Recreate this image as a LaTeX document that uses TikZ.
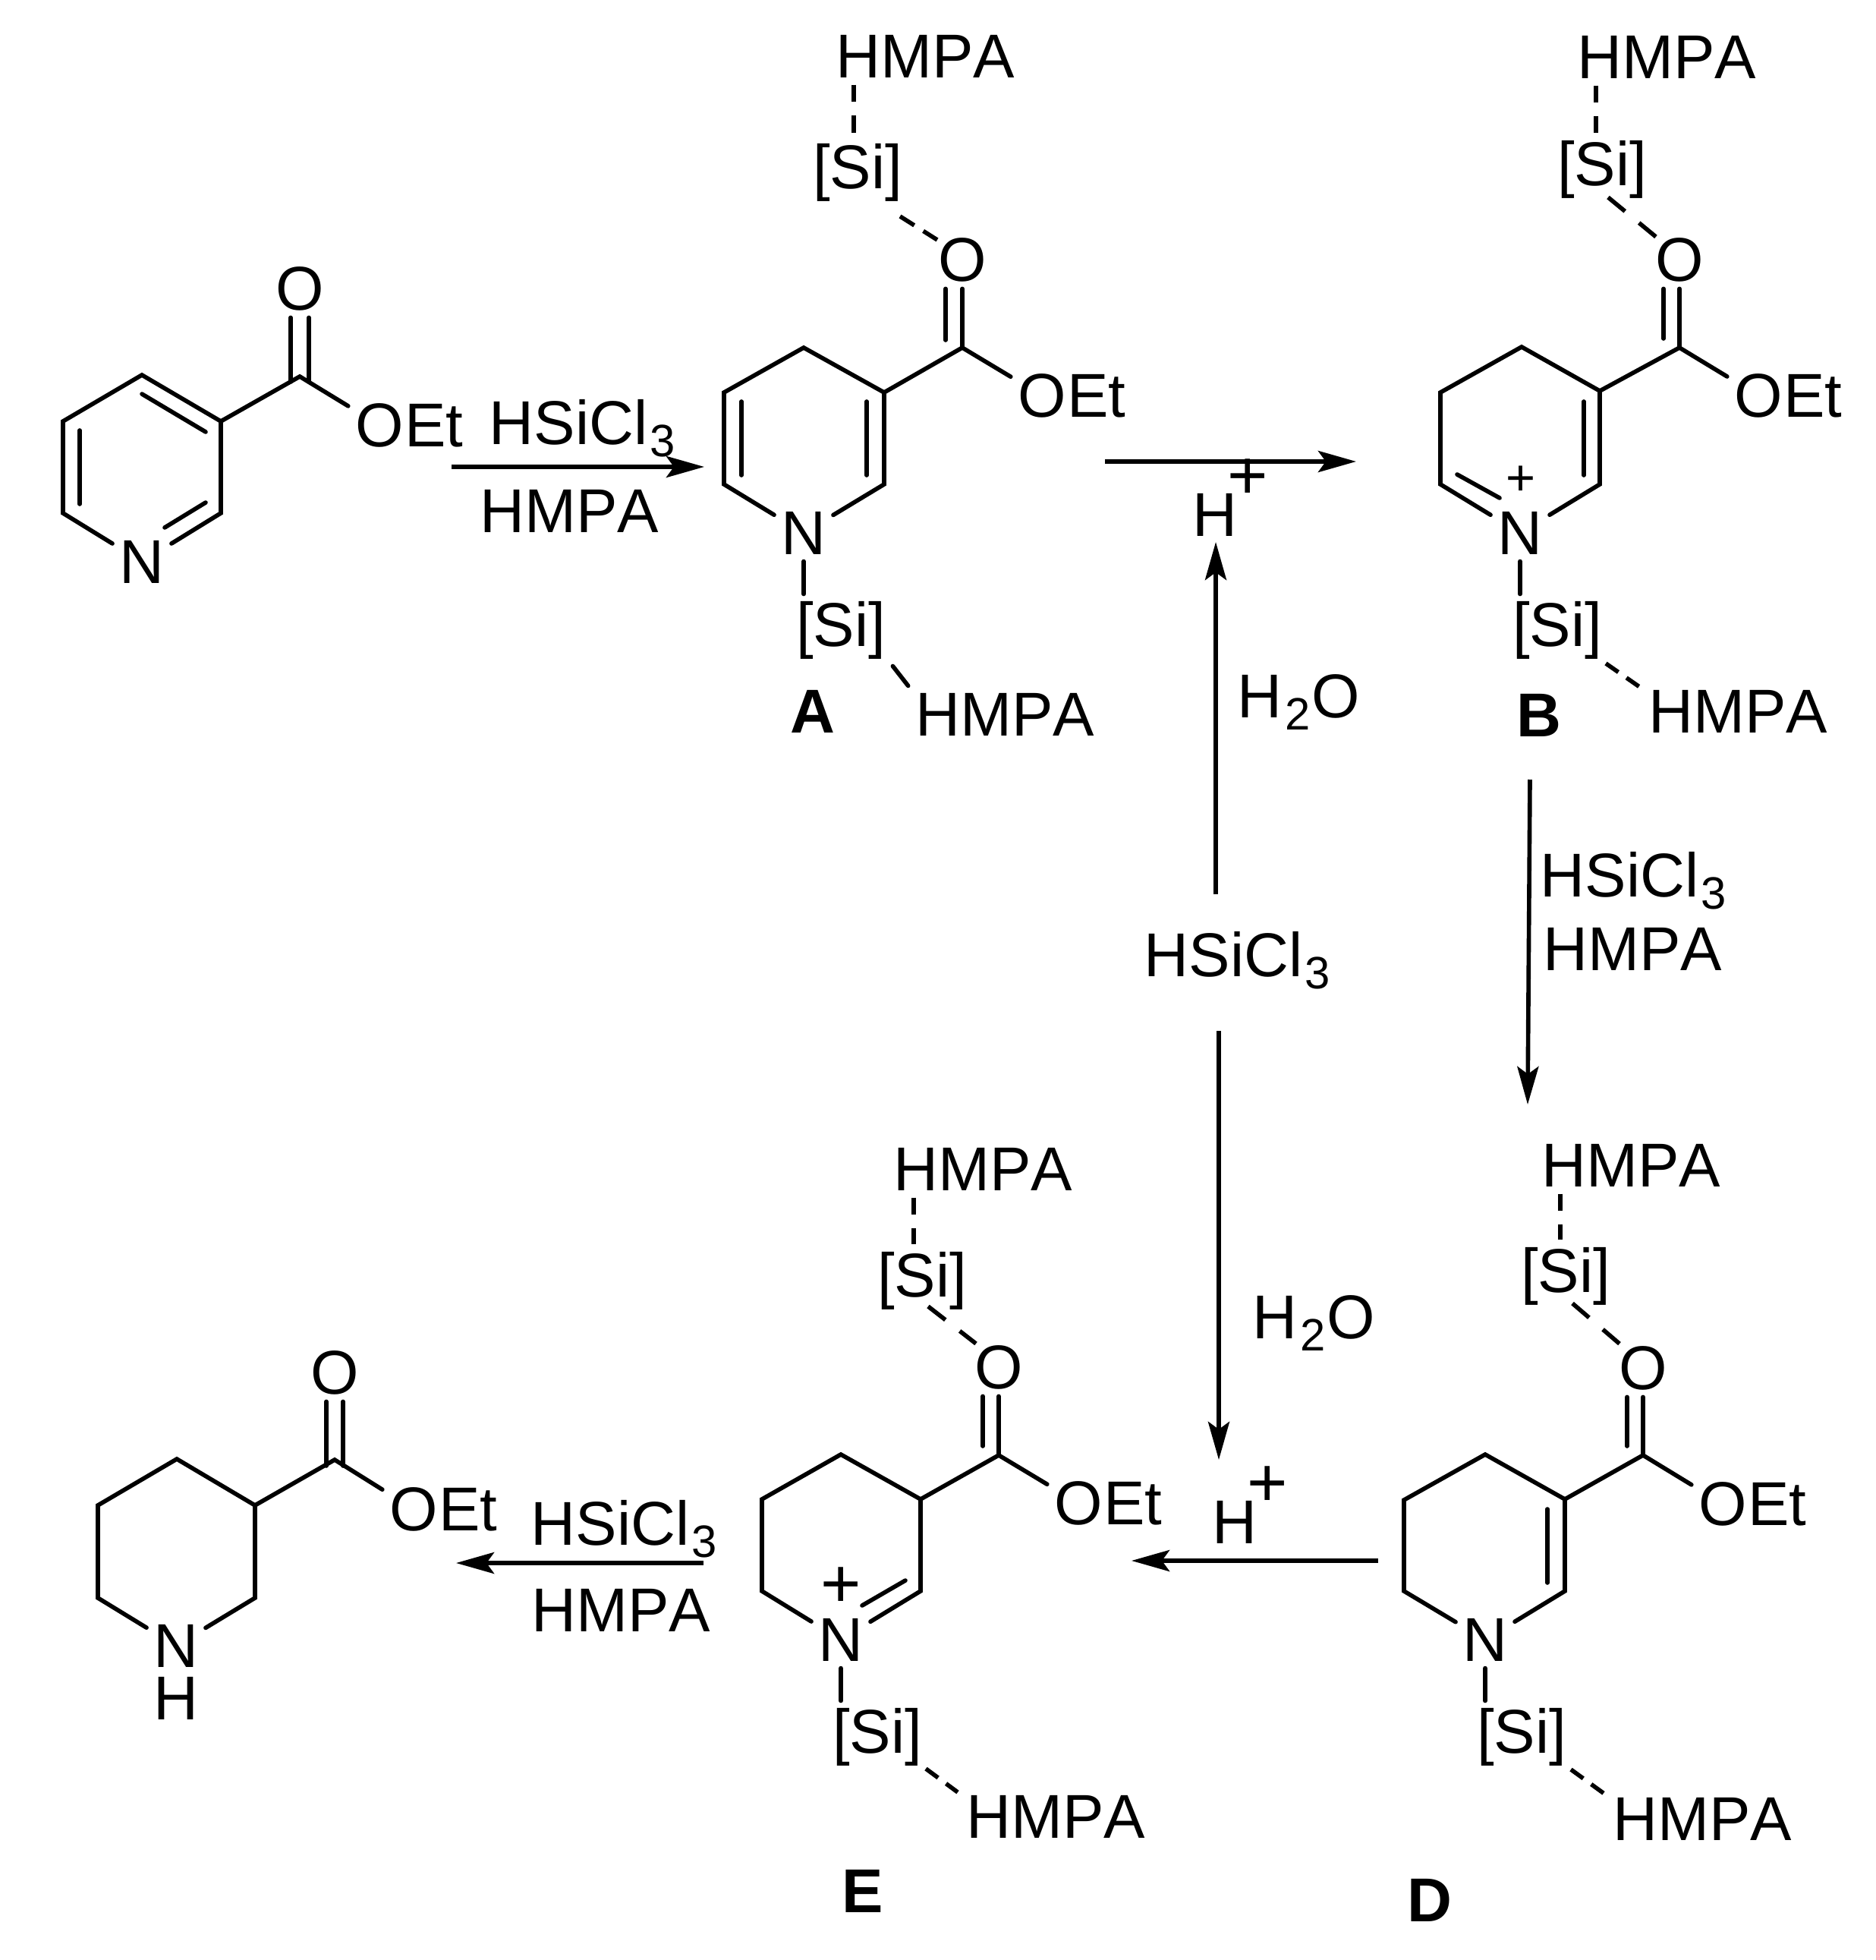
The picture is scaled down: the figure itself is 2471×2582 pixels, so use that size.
\documentclass[tikz,border=0pt]{standalone}
\usepackage{fontspec}
\setmainfont[Kerning=Off]{Liberation Sans}
\usetikzlibrary{arrows.meta,positioning}
\newcommand{\molfont}{\fontsize{23.2}{27}\selectfont}
\newcommand{\molsub}[1]{\kern1pt\raisebox{-4.8pt}{\fontsize{17}{17}\selectfont #1}\kern0.5pt}
\tikzset{
  atom/.style={inner sep=2.5pt},
  lbl/.style={inner sep=0pt},
  reagent/.style={inner sep=0pt,anchor=base west},
  cmpd/.style={inner sep=0pt,font=\molfont\bfseries},
  chgs/.style={inner sep=0pt,font=\fontsize{19}{19}\selectfont},
  chgl/.style={inner sep=0pt,font=\fontsize{26}{26}\selectfont},
  bond/.style={line width=1.6pt,line cap=round},
  dbond/.style={line width=1.6pt,dash pattern=on 6.5pt off 5pt},
  sdbond/.style={line width=1.6pt,dash pattern=on 6.3pt off 4pt},
  hdbond/.style={line width=1.6pt,dash pattern=on 5.7pt off 3.7pt},
  ldbond/.style={line width=1.6pt,dash pattern=on 8.2pt off 6.8pt},
  rxn/.style={line width=1.6pt,-{Stealth[length=5mm,width=2.8mm,inset=1mm]}}
}
\begin{document}
\begin{tikzpicture}[x=0.01cm,y=-0.01cm,every node/.style={font=\molfont}]
\useasboundingbox (0,0) rectangle (2471,2582);
% starting ester
\node[atom] (pN) at (187,740) {N};
\node[atom] (pO) at (395,380) {O};
\node[atom] (pOe) at (500,560) {O};
\node[lbl,base right=-2.5pt of pOe] (pEt) {Et};
\coordinate (p1) at (291,676);
\coordinate (p2) at (291,555);
\coordinate (p3) at (187,494);
\coordinate (p4) at (83,555);
\coordinate (p5) at (83,676);
\coordinate (pC) at (395,496);
\coordinate (pCa) at (383,503);
\coordinate (pCb) at (407,503);
\coordinate (pIa) at (271,662);
\coordinate (pIb) at (217,695);
\coordinate (pIc) at (271,569);
\coordinate (pId) at (187,519);
\coordinate (pIe) at (105,567);
\coordinate (pIf) at (105,664);
\draw[bond] (pN) -- (p1) -- (p2) -- (p3) -- (p4) -- (p5) -- (pN);
\draw[bond] (pIa) -- (pIb);
\draw[bond] (pIc) -- (pId);
\draw[bond] (pIe) -- (pIf);
\draw[bond] (p2) -- (pC) -- (pOe);
\draw[bond] (pCa) -- (pCa |- pO.south);
\draw[bond] (pCb) -- (pCb |- pO.south);
% A
\node[atom] (aHt) at (1219,74) {HMPA};
\node[atom] (aSit) at (1130,227) {[Si]};
\node[atom] (aO) at (1268,342) {O};
\node[atom] (aOe) at (1373,521) {O};
\node[lbl,base right=-2.5pt of aOe] (aEt) {Et};
\node[atom] (aN) at (1059,702) {N};
\node[atom] (aSib) at (1108,830) {[Si]};
\node[atom] (aHb) at (1324,941) {HMPA};
\node[cmpd] (aLbl) at (1071,937) {A};
\coordinate (a1) at (1165,638);
\coordinate (a2) at (1165,517);
\coordinate (a3) at (1059,458);
\coordinate (a4) at (954,517);
\coordinate (a5) at (954,638);
\coordinate (aC) at (1268,458);
\coordinate (aCi) at (1246,448);
\coordinate (aIa) at (1142,529);
\coordinate (aIb) at (1142,626);
\coordinate (aIc) at (977,529);
\coordinate (aId) at (977,626);
\coordinate (aTop) at (1125,145);
\coordinate (aSiO) at (1186,285);
\coordinate (aOd) at (1235,316);
\draw[bond] (aN) -- (a1) -- (a2) -- (a3) -- (a4) -- (a5) -- (aN);
\draw[bond] (aIa) -- (aIb);
\draw[bond] (aIc) -- (aId);
\draw[bond] (a2) -- (aC) -- (aOe);
\draw[bond] (aC) -- (aO);
\draw[bond] (aCi) -- (aCi |- aO.south);
\draw[bond] (aN) -- (aN |- aSib.north);
\draw[bond] (aSib.south east) -- (aHb.north west);
\draw[dbond] (aTop |- aHt.south) -- (aTop |- aSit.north);
\draw[sdbond] (aSiO) -- (aOd);
% B
\node[atom] (bHt) at (2196,75) {HMPA};
\node[atom] (bSit) at (2111,223) {[Si]};
\node[atom] (bO) at (2213,342) {O};
\node[atom] (bOe) at (2317,521) {O};
\node[lbl,base right=-2.5pt of bOe] (bEt) {Et};
\node[atom] (bN) at (2003,702) {N};
\node[chgs] (bChg) at (2004,633) {+};
\node[atom] (bSib) at (2052,830) {[Si]};
\node[atom] (bHb) at (2290,937) {HMPA};
\node[cmpd] (bLbl) at (2028,942) {B};
\coordinate (b1) at (2108,638);
\coordinate (b2) at (2108,515);
\coordinate (b3) at (2005,457);
\coordinate (b4) at (1898,517);
\coordinate (b5) at (1898,638);
\coordinate (bC) at (2213,458);
\coordinate (bCi) at (2192,446);
\coordinate (bIa) at (2087,529);
\coordinate (bIb) at (2087,626);
\coordinate (bIc) at (1920,625);
\coordinate (bId) at (1976,656);
\coordinate (bTop) at (2103,145);
\coordinate (bSiO) at (2119,260);
\coordinate (bOd) at (2182,312);
\coordinate (bSiH) at (2116,874);
\coordinate (bHd) at (2162,906);
\draw[bond] (bN) -- (b1) -- (b2) -- (b3) -- (b4) -- (b5) -- (bN);
\draw[bond] (bIa) -- (bIb);
\draw[bond] (bIc) -- (bId);
\draw[bond] (b2) -- (bC) -- (bOe);
\draw[bond] (bC) -- (bO);
\draw[bond] (bCi) -- (bCi |- bO.south);
\draw[bond] (bN) -- (bN |- bSib.north);
\draw[hdbond] (bSiH) -- (bHd);
\draw[dbond] (bTop |- bHt.south) -- (bTop |- bSit.north);
\draw[ldbond] (bSiO) -- (bOd);
% D
\node[atom] (dHt) at (2149,1535) {HMPA};
\node[atom] (dSit) at (2063,1681) {[Si]};
\node[atom] (dO) at (2165,1802) {O};
\node[atom] (dOe) at (2270,1981) {O};
\node[lbl,base right=-2.5pt of dOe] (dEt) {Et};
\node[atom] (dN) at (1957,2160) {N};
\node[atom] (dSib) at (2005,2288) {[Si]};
\node[atom] (dHb) at (2243,2396) {HMPA};
\node[cmpd] (dLbl) at (1884,2503) {D};
\coordinate (d1) at (2062,2096);
\coordinate (d2) at (2062,1975);
\coordinate (d3) at (1957,1916);
\coordinate (d4) at (1850,1976);
\coordinate (d5) at (1850,2096);
\coordinate (dC) at (2165,1917);
\coordinate (dCi) at (2144,1905);
\coordinate (dIa) at (2039,1988);
\coordinate (dIb) at (2039,2085);
\coordinate (dTop) at (2056,1600);
\coordinate (dSiO) at (2072,1717);
\coordinate (dOd) at (2135,1771);
\coordinate (dSiH) at (2070,2331);
\coordinate (dHd) at (2114,2363);
\draw[bond] (dN) -- (d1) -- (d2) -- (d3) -- (d4) -- (d5) -- (dN);
\draw[bond] (dIa) -- (dIb);
\draw[bond] (d2) -- (dC) -- (dOe);
\draw[bond] (dC) -- (dO);
\draw[bond] (dCi) -- (dCi |- dO.south);
\draw[bond] (dN) -- (dN |- dSib.north);
\draw[hdbond] (dSiH) -- (dHd);
\draw[dbond] (dTop |- dHt.south) -- (dTop |- dSit.north);
\draw[ldbond] (dSiO) -- (dOd);
% E
\node[atom] (eHt) at (1295,1540) {HMPA};
\node[atom] (eSit) at (1215,1687) {[Si]};
\node[atom] (eO) at (1316,1801) {O};
\node[atom] (eOe) at (1421,1980) {O};
\node[lbl,base right=-2.5pt of eOe] (eEt) {Et};
\node[atom] (eN) at (1108,2160) {N};
\node[chgl] (eChg) at (1108,2091) {+};
\node[atom] (eSib) at (1156,2288) {[Si]};
\node[atom] (eHb) at (1391,2393) {HMPA};
\node[cmpd] (eLbl) at (1137,2491) {E};
\coordinate (e1) at (1213,2096);
\coordinate (e2) at (1213,1975);
\coordinate (e3) at (1108,1916);
\coordinate (e4) at (1004,1975);
\coordinate (e5) at (1004,2096);
\coordinate (eC) at (1316,1917);
\coordinate (eCi) at (1295,1905);
\coordinate (eIa) at (1193,2082);
\coordinate (eIb) at (1136,2115);
\coordinate (eTop) at (1204,1600);
\coordinate (eSiO) at (1223,1721);
\coordinate (eOd) at (1286,1770);
\coordinate (eSiH) at (1220,2330);
\coordinate (eHd) at (1262,2361);
\draw[bond] (eN) -- (e1) -- (e2) -- (e3) -- (e4) -- (e5) -- (eN);
\draw[bond] (eIa) -- (eIb);
\draw[bond] (e2) -- (eC) -- (eOe);
\draw[bond] (eC) -- (eO);
\draw[bond] (eCi) -- (eCi |- eO.south);
\draw[bond] (eN) -- (eN |- eSib.north);
\draw[hdbond] (eSiH) -- (eHd);
\draw[dbond] (eTop |- eHt.south) -- (eTop |- eSit.north);
\draw[ldbond] (eSiO) -- (eOd);
% product
\node[atom] (fN) at (232,2168) {N};
\node[lbl] (fH) at (232,2237) {H};
\node[atom] (fO) at (441,1808) {O};
\node[atom] (fOe) at (545,1988) {O};
\node[lbl,base right=-2.5pt of fOe] (fEt) {Et};
\coordinate (f1) at (336,2105);
\coordinate (f2) at (336,1983);
\coordinate (f3) at (233,1922);
\coordinate (f4) at (129,1983);
\coordinate (f5) at (129,2105);
\coordinate (fC) at (441,1923);
\coordinate (fCa) at (430,1931);
\coordinate (fCb) at (452,1931);
\draw[bond] (fN) -- (f1) -- (f2) -- (f3) -- (f4) -- (f5) -- (fN);
\draw[bond] (f2) -- (fC) -- (fOe);
\draw[bond] (fCa) -- (fCa |- fO.south);
\draw[bond] (fCb) -- (fCb |- fO.south);
% reagents
\node[reagent] (r1a) at (644,585) {HSiCl\molsub{3}};
\node[lbl] (r1b) at (750,673) {HMPA};
\node[lbl] (r2H) at (1601,678) {H};
\node[chgl] (r2P) at (1644,631) {+};
\node[reagent] (r3w) at (1630,945) {H\molsub{2}O};
\node[reagent] (r4s) at (1507,1286) {HSiCl\molsub{3}};
\node[reagent] (r5w) at (1650,1763) {H\molsub{2}O};
\node[lbl] (r6H) at (1627,2005) {H};
\node[chgl] (r6P) at (1670,1958) {+};
\node[reagent] (r7a) at (2029,1181) {HSiCl\molsub{3}};
\node[lbl] (r7b) at (2151,1250) {HMPA};
\node[reagent] (r8a) at (699,2035) {HSiCl\molsub{3}};
\node[lbl] (r8b) at (818,2121) {HMPA};
% arrows
\coordinate (x1a) at (595,615);
\coordinate (x1b) at (928,615);
\coordinate (x2a) at (1456,608);
\coordinate (x2b) at (1787,608);
\coordinate (x3a) at (1602,1178);
\coordinate (x3b) at (1602,714);
\coordinate (x4a) at (1606,1358);
\coordinate (x4b) at (1606,1923);
\coordinate (x5a) at (2016,1027);
\coordinate (x5b) at (2013,1455);
\coordinate (x6a) at (1816,2056);
\coordinate (x6b) at (1491,2056);
\coordinate (x7a) at (927,2059);
\coordinate (x7b) at (601,2059);
\draw[rxn] (x1a) -- (x1b);
\draw[rxn] (x2a) -- (x2b);
\draw[rxn] (x3a) -- (x3b);
\draw[rxn] (x4a) -- (x4b);
\draw[rxn] (x5a) -- (x5b);
\draw[rxn] (x6a) -- (x6b);
\draw[rxn] (x7a) -- (x7b);
\end{tikzpicture}
\end{document}
